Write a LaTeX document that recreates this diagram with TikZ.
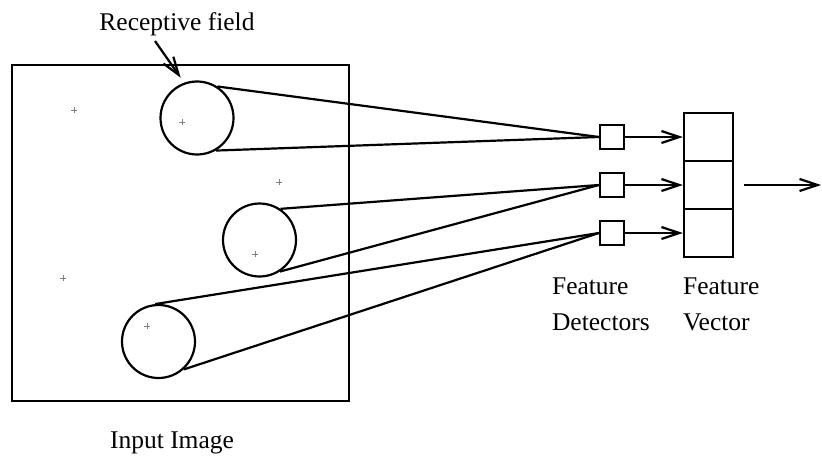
\documentclass[tikz,border=0pt]{standalone}
\usepackage{fontspec}
\setmainfont{Liberation Serif}
\usetikzlibrary{arrows.meta,calc}

\begin{document}
\begin{tikzpicture}[x=0.5pt,y=-0.5pt,
    every node/.style={font=\fontsize{12.75}{18}\selectfont},
    line/.style={line width=1.1pt},
    arrowline/.style={line width=1.1pt,-{Straight Barb[length=9pt,width=6pt,line width=1.1pt]}},
    field/.style={circle,draw,line width=1.1pt,inner sep=0pt,minimum size=36.5pt},
    detector/.style={rectangle,draw,line width=1.1pt,inner sep=0pt,minimum size=12pt},
    cell/.style={rectangle,draw,line width=1.1pt,inner sep=0pt,minimum width=24.5pt,minimum height=24pt},
    cross/.style={gray,line width=0.4pt}]
    \useasboundingbox (0,0) rectangle (822,460);
    % input image
    \node (image) [draw,line width=1.1pt,inner sep=0pt,minimum width=168.5pt,minimum height=168pt] at (180.5,233) {};
    \node (imglabel) at (172,443) {Input Image};
    % sample points
    \foreach \px/\py in {74/110,182/122,279/182,255/254,63/278,147/326}
        \draw[cross] (\px-3,\py) -- (\px+3,\py) (\px,\py-3) -- (\px,\py+3);
    % receptive fields
    \node (c1) [field] at (197,118) {};
    \node (c2) [field] at (259.5,240) {};
    \node (c3) [field] at (158.5,341.5) {};
    \node (rflabel) at (177,24) {Receptive field};
    \coordinate (rfa) at (155,41);
    \draw[arrowline,shorten >=3pt] (rfa) -- (c1.110);
    % feature detectors
    \node (d1) [detector] at (612,137) {};
    \node (d2) [detector] at (612,185) {};
    \node (d3) [detector] at (612,233) {};
    \node (dlabel) [anchor=west,align=left] at (545,304) {Feature\\Detectors};
    % feature vector
    \node (v1) [cell] at (708.5,137) {};
    \node (v2) [cell] at (708.5,185) {};
    \node (v3) [cell] at (708.5,233) {};
    \node (vlabel) [anchor=west,align=left] at (676,304) {Feature\\Vector};
    % connections
    \draw[line] (d1.west) -- (c1.57);
    \draw[line] (d1.west) -- (c1.-60);
    \draw[line] (d2.west) -- (c2.56);
    \draw[line] (d2.west) -- (c2.-57);
    \draw[line] (d3.west) -- (c3.95);
    \draw[line] (d3.west) -- (c3.-48);
    \foreach \i in {1,2,3}
        \draw[arrowline] (d\i.east) -- (v\i.west);
    \coordinate (outstart) at (744,185);
    \coordinate (out) at (821,185);
    \draw[arrowline] (outstart) -- (out);
\end{tikzpicture}
\end{document}
